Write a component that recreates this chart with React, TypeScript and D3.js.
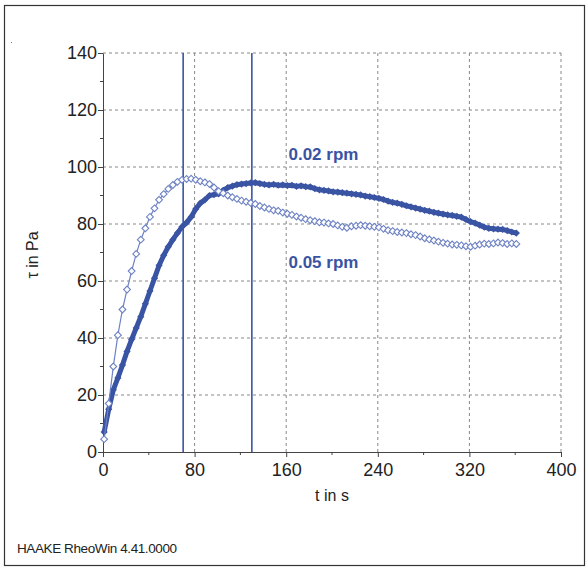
import React, { useEffect, useRef } from 'react';
import * as d3 from 'd3';

// time in s, sampled every 4 s
const times = d3.range(1, 362, 4);

// 0.02 rpm (filled markers)
const tau002 = [
    7, 15, 21.8, 26, 30.5, 35.3, 39.5, 43.5, 47.5, 52,
    56.5, 61, 65.5, 69, 72, 74.5, 76.8, 79, 80.5, 82.5,
    85.3, 87.3, 88.5, 90, 90.3, 90.6, 91.8, 92.8, 93.3, 93.8,
    94, 94.2, 94.4, 94.5, 94.2, 93.9, 93.7, 93.9, 93.6, 93.7,
    93.5, 93.6, 93.2, 93.4, 93.1, 93.0, 92.4, 92.0, 91.8, 91.6,
    91.3, 91.2, 91.0, 90.8, 90.6, 90.4, 90.2, 89.8, 89.6, 89.3,
    89.0, 88.6, 88.0, 87.6, 87.3, 86.9, 86.4, 86.0, 85.6, 85.2,
    84.8, 84.5, 84.1, 83.8, 83.5, 83.2, 83.0, 82.7, 82.4, 81.6,
    80.8, 80.3, 79.6, 78.9, 78.5, 78.3, 78.2, 78.1, 77.7, 77.2,
    76.8
];

// 0.05 rpm (open markers)
const tau005 = [
    4.5, 17, 30, 41, 50, 57, 63.5, 69.5, 74.5, 78.5,
    82.5, 85.5, 88.5, 90.5, 92.3, 93.7, 94.8, 95.5, 95.8, 95.9,
    95.5, 95, 94.6, 94, 92.8, 91.5, 90.8, 90, 89.4, 88.8,
    88.2, 87.8, 87.4, 87.0, 86.3, 85.8, 85.3, 84.8, 84.6, 84.0,
    83.6, 83.2, 82.6, 82.2, 81.7, 81.3, 81.0, 80.6, 80.5, 80.2,
    80.0, 79.5, 79.0, 78.7, 79.2, 79.4, 79.6, 79.4, 79.2, 79.0,
    78.8, 78.3, 77.8, 77.5, 77.2, 77.0, 76.8, 76.4, 76.1, 75.6,
    75.0, 74.6, 74.2, 73.8, 73.4, 73.1, 72.8, 72.7, 72.5, 72.2,
    72.0, 72.4, 72.8, 73.1, 73.0, 73.2, 73.5, 73.3, 73.0, 73.2,
    73.0
];

const xTicks = [0, 80, 160, 240, 320, 400];
const xMinor = [40, 120, 200, 280, 360];
const yTicks = [0, 20, 40, 60, 80, 100, 120, 140];
const yMinor = [10, 30, 50, 70, 90, 110, 130];
const markerLines = [70, 130];
const seriesLabels = [
    { text: '0.02 rpm', t: 162, tau: 102.5 },
    { text: '0.05 rpm', t: 162, tau: 64.6 }
];

const blue = '#3a54a4';
const lightBlue = '#6d82c4';
const font = 'Arial, "Liberation Sans", sans-serif';

const diamond = (r: number) => `M0,${-r}L${r},0L0,${r}L${-r},0Z`;

const App = () => {
    const svgRef = useRef<SVGSVGElement>(null);
    const width = 587;
    const height = 567;

    useEffect(() => {
        document.body.style.margin = '0';
        if (!svgRef.current) return;
        const svg = d3.select(svgRef.current);
        svg.selectAll('*').remove();

        const margin = { top: 53, right: 25, bottom: 115, left: 103 };
        const x = d3.scaleLinear().domain([0, 400]).range([margin.left, width - margin.right - 1]);
        const y = d3.scaleLinear().domain([0, 140]).range([height - margin.bottom, margin.top]);

        // outer frame
        svg.append('rect')
            .attr('x', 4.5).attr('y', 5.5)
            .attr('width', 580).attr('height', 560)
            .attr('fill', 'white')
            .attr('stroke', '#333')
            .attr('stroke-width', 1.2);

        svg.append('rect')
            .attr('x', 11).attr('y', 42).attr('width', 1).attr('height', 1)
            .attr('fill', '#777');

        // grid
        const grid = svg.append('g')
            .attr('stroke', '#888')
            .attr('stroke-width', 1)
            .attr('stroke-dasharray', '3,3');
        grid.selectAll('line.gx')
            .data(xTicks.slice(1))
            .join('line')
            .attr('x1', d => x(d)).attr('x2', d => x(d))
            .attr('y1', y(0)).attr('y2', y(140));
        grid.selectAll('line.gy')
            .data(yTicks.slice(1))
            .join('line')
            .attr('class', 'gy')
            .attr('x1', x(0)).attr('x2', x(400))
            .attr('y1', d => y(d)).attr('y2', d => y(d));

        // axes
        const xAxis = svg.append('g')
            .attr('transform', `translate(0,${y(0)})`)
            .call(d3.axisBottom(x).tickValues(xTicks).tickSize(5).tickSizeOuter(0))
            .attr('color', '#444');
        xAxis.selectAll('text')
            .attr('dy', '0.9em')
            .style('font-family', font)
            .style('font-size', '18px')
            .attr('fill', '#222');
        xAxis.selectAll('.minor')
            .data(xMinor)
            .join('line')
            .attr('class', 'minor')
            .attr('stroke', '#444')
            .attr('x1', d => x(d)).attr('x2', d => x(d))
            .attr('y1', 0).attr('y2', 3);

        const yAxis = svg.append('g')
            .attr('transform', `translate(${x(0)},0)`)
            .call(d3.axisLeft(y).tickValues(yTicks).tickSize(5).tickSizeOuter(0))
            .attr('color', '#444');
        yAxis.selectAll('text')
            .attr('x', -6)
            .style('font-family', font)
            .style('font-size', '18px')
            .attr('fill', '#222');
        yAxis.selectAll('.minor')
            .data(yMinor)
            .join('line')
            .attr('class', 'minor')
            .attr('stroke', '#444')
            .attr('x1', -3).attr('x2', 0)
            .attr('y1', d => y(d)).attr('y2', d => y(d));

        // vertical marker lines
        svg.append('g')
            .selectAll('line')
            .data(markerLines)
            .join('line')
            .attr('x1', d => x(d)).attr('x2', d => x(d))
            .attr('y1', y(0)).attr('y2', y(140))
            .attr('stroke', blue)
            .attr('stroke-width', 1.6);

        const line = d3.line<number>()
            .x((_, i) => x(times[i]))
            .y(d => y(d));

        // 0.02 rpm series
        svg.append('path')
            .attr('d', line(tau002))
            .attr('fill', 'none')
            .attr('stroke', blue)
            .attr('stroke-width', 5)
            .attr('stroke-linejoin', 'round');
        svg.append('g')
            .selectAll('path')
            .data(tau002)
            .join('path')
            .attr('transform', (d, i) => `translate(${x(times[i])},${y(d)})`)
            .attr('d', diamond(3.6))
            .attr('fill', blue);

        // 0.05 rpm series
        svg.append('path')
            .attr('d', line(tau005))
            .attr('fill', 'none')
            .attr('stroke', lightBlue)
            .attr('stroke-width', 1.2);
        svg.append('g')
            .selectAll('path')
            .data(tau005)
            .join('path')
            .attr('transform', (d, i) => `translate(${x(times[i])},${y(d)})`)
            .attr('d', diamond(3.4))
            .attr('fill', 'white')
            .attr('stroke', lightBlue)
            .attr('stroke-width', 1.1);

        // series labels
        svg.append('g')
            .selectAll('text')
            .data(seriesLabels)
            .join('text')
            .attr('x', d => x(d.t))
            .attr('y', d => y(d.tau))
            .text(d => d.text)
            .attr('fill', blue)
            .style('font-family', font)
            .style('font-size', '17px')
            .style('font-weight', 'bold');

        // axis titles
        svg.append('text')
            .attr('x', 332)
            .attr('y', 501)
            .attr('text-anchor', 'middle')
            .text('t in s')
            .attr('fill', '#222')
            .style('font-family', font)
            .style('font-size', '16px');

        svg.append('text')
            .attr('transform', `translate(38,255) rotate(-90)`)
            .attr('text-anchor', 'middle')
            .text('τ in Pa')
            .attr('fill', '#222')
            .style('font-family', font)
            .style('font-size', '16px');

        svg.append('text')
            .attr('x', 17)
            .attr('y', 553)
            .text('HAAKE RheoWin 4.41.0000')
            .attr('fill', '#222')
            .style('font-family', font)
            .style('font-size', '13.5px')
            .style('letter-spacing', '-0.4px');
    }, []);

    return (
        <svg ref={svgRef} width={width} height={height} style={{ display: 'block' }} />
    );
};

export default App;
